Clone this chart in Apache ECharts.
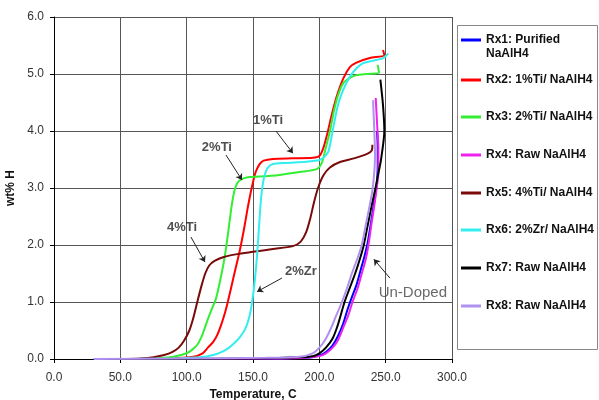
<!DOCTYPE html>
<html>
<head>
<meta charset="utf-8">
<script src="https://cdn.jsdelivr.net/npm/echarts@6/dist/echarts.min.js"></script>
<style>
  html, body { margin: 0; padding: 0; background: #fff; }
  #chart { width: 599px; height: 400px; }
</style>
</head>
<body>
<div id="chart"></div>
<script>
// axis ticks
const xTicks = [0, 50, 100, 150, 200, 250, 300];
const yTicks = [0, 1, 2, 3, 4, 5, 6];

// series names (legend order)
const names = [
  'Rx1: Purified\nNaAlH4',
  'Rx2: 1%Ti/ NaAlH4',
  'Rx3: 2%Ti/ NaAlH4',
  'Rx4: Raw NaAlH4',
  'Rx5: 4%Ti/ NaAlH4',
  'Rx6: 2%Zr/ NaAlH4',
  'Rx7: Raw NaAlH4',
  'Rx8: Raw NaAlH4'
];

// [temperature C, wt% H]
const rx1 = [[30,0],[120,0],[190,0.02],[200,0.06],[205,0.12],[210,0.24],[214,0.4],[218,0.62],[221,0.85],[224,1.05],[228,1.3],[231,1.55],[234,1.8],[236.5,2.05],[239,2.4],[241,2.7],[243,3.0],[244,3.4],[244,3.7],[243.5,4.0]];
const rx2 = [[60,0],[85,0.01],[105,0.04],[112,0.1],[116,0.2],[120,0.3],[123,0.42],[126,0.6],[129,0.82],[131,1.0],[134,1.3],[137,1.6],[140,1.9],[143,2.25],[146,2.65],[149,3.0],[152,3.28],[155,3.42],[158,3.48],[165,3.51],[180,3.52],[195,3.53],[200,3.56],[203,3.7],[206,3.95],[209,4.25],[213,4.6],[218,4.92],[223,5.12],[228,5.2],[238,5.28],[249,5.33],[248,5.42]];
const rx3 = [[55,0],[75,0.01],[90,0.04],[100,0.1],[104,0.16],[108,0.25],[111,0.38],[113,0.5],[116,0.7],[119,0.88],[122,1.05],[125,1.35],[128,1.7],[130,2.0],[132,2.35],[134,2.7],[136,2.95],[138,3.08],[141,3.15],[146,3.19],[155,3.2],[170,3.23],[185,3.28],[198,3.33],[202,3.45],[205,3.72],[208,4.0],[211,4.35],[214,4.62],[218,4.84],[223,4.93],[228,4.98],[236,5.0],[245,5.02],[244,5.16]];
const rx4 = [[50,0],[120,0],[170,0.01],[190,0.02],[200,0.05],[205,0.1],[210,0.2],[214,0.33],[218,0.55],[222,0.78],[225,1.0],[229,1.25],[232,1.5],[235,1.75],[237,2.0],[239.5,2.4],[241.5,2.7],[243,2.96],[244.5,3.26],[244.5,3.7],[243.5,4.14],[242.5,4.58]];
const rx5 = [[50,0],[65,0.01],[75,0.03],[83,0.07],[89,0.12],[94,0.2],[98,0.32],[102,0.5],[105,0.72],[108,1.0],[111,1.27],[114,1.5],[117,1.64],[121,1.72],[128,1.79],[138,1.84],[150,1.88],[165,1.93],[180,1.98],[186,2.06],[190,2.22],[193,2.45],[196,2.75],[199,3.0],[203,3.22],[208,3.36],[216,3.46],[226,3.52],[236,3.6],[239.5,3.66],[240,3.76]];
const rx6 = [[60,0],[90,0.01],[110,0.03],[120,0.07],[127,0.13],[132,0.2],[136,0.28],[140,0.38],[144,0.52],[147,0.72],[149,0.95],[151,1.3],[153,1.8],[154.5,2.3],[156,2.8],[158,3.15],[161,3.35],[165,3.42],[175,3.44],[190,3.46],[200,3.49],[204,3.55],[207,3.65],[210,4.0],[214,4.45],[218,4.72],[223,4.95],[228,5.1],[233,5.19],[240,5.23],[248,5.28],[252,5.36]];
const rx7 = [[40,0],[100,0],[150,0.01],[185,0.03],[195,0.05],[200,0.1],[205,0.2],[210,0.36],[214,0.6],[219,1.0],[223,1.25],[227,1.5],[230.5,1.75],[233.5,2.0],[236.5,2.35],[239.5,2.7],[242,2.96],[244,3.2],[246.5,3.5],[249,4.0],[248,4.45],[246,4.9]];
const rx8 = [[30,0],[100,0.01],[160,0.02],[185,0.04],[195,0.1],[200,0.2],[204,0.32],[208,0.5],[212,0.72],[217,1.0],[221,1.25],[224.5,1.5],[228.5,1.75],[232,2.0],[235,2.35],[238,2.7],[240,2.96],[241.5,3.3],[242,3.6],[241.5,3.96],[240.5,4.54]];

// annotations in data coords
const annotText = ['1%Ti', '2%Ti', '4%Ti', '2%Zr', 'Un-Doped'];
const annotAt = [[161.3,4.19],[122.8,3.72],[96.5,2.30],[186.1,1.53],[270.5,1.16]];
const arrowFrom = [[167.3,4.0],[129.6,3.58],[103.2,2.14],[171.8,1.42],[253.2,1.42]];
const arrowTo = [[180.1,3.61],[141.7,3.14],[113.8,1.70],[153.0,1.18],[241.1,1.75]];

const colors = ['#0000ff','#ff0000','#33ee33','#ee22ee','#7a0a0a','#33eeee','#000000','#b090f0'];
const allData = [rx1, rx2, rx3, rx4, rx5, rx6, rx7, rx8];
const legendCenters = [40, 80, 117, 155, 193, 230, 268, 306];

const font = "'Liberation Sans', Arial, sans-serif";
const chart = echarts.init(document.getElementById('chart'));

const series = allData.map((d, i) => ({
  name: names[i],
  type: 'line',
  data: d,
  symbol: 'none',
  smooth: 0.25,
  lineStyle: { width: 2, color: colors[i] },
  itemStyle: { color: colors[i] },
  z: 2 + i
}));

series.push({
  type: 'lines',
  coordinateSystem: 'cartesian2d',
  data: arrowFrom.map((p, i) => ({ coords: [p, arrowTo[i]] })),
  symbol: ['none', 'arrow'],
  symbolSize: 6,
  lineStyle: { color: '#222', width: 1, opacity: 1 },
  z: 20
});

series.push({
  type: 'scatter',
  data: annotAt.map((p, i) => ({
    value: p,
    name: annotText[i],
    label: i === 4 ? { fontWeight: 'normal', fontSize: 15, color: '#444' } : {}
  })),
  symbolSize: 0,
  label: {
    show: true,
    position: 'inside',
    formatter: p => p.name,
    fontFamily: font,
    fontSize: 13,
    fontWeight: 'bold',
    color: '#222'
  },
  z: 21
});

// one legend per entry so spacing matches
const legends = names.map((n, i) => ({
  data: [n],
  orient: 'vertical',
  left: 461,
  top: i === 0 ? legendCenters[i] - 21 : legendCenters[i] - 7,
  padding: 0,
  icon: 'rect',
  itemWidth: 20,
  itemHeight: 3,
  itemGap: 0,
  formatter: i === 0 ? name => ' \n' + name : name => name,
  textStyle: {
    fontFamily: font,
    fontSize: 12,
    fontWeight: 'bold',
    color: '#111',
    lineHeight: 14
  }
}));

const option = {
  animation: false,
  color: colors,
  textStyle: { fontFamily: font },
  grid: { left: 54, right: 147, top: 17, bottom: 41, outerBoundsMode: 'none' },
  legend: legends,
  graphic: [{
    type: 'rect',
    shape: { x: 457.5, y: 25.5, width: 140, height: 324 },
    style: { fill: 'none', stroke: '#888', lineWidth: 1 },
    silent: true
  }],
  xAxis: {
    type: 'value',
    min: xTicks[0],
    max: xTicks[xTicks.length - 1],
    interval: 50,
    name: 'Temperature, C',
    nameLocation: 'middle',
    nameGap: 29,
    nameTextStyle: { fontFamily: font, fontSize: 12, fontWeight: 'bold', color: '#111' },
    axisLine: { lineStyle: { color: '#000', width: 1 } },
    axisTick: { show: true, length: 4, lineStyle: { color: '#000' } },
    axisLabel: { formatter: v => v.toFixed(1), fontFamily: font, fontSize: 12, color: '#333', margin: 13 },
    splitLine: { show: true, lineStyle: { color: '#555', width: 1 } }
  },
  yAxis: {
    type: 'value',
    min: yTicks[0],
    max: yTicks[yTicks.length - 1],
    interval: 1,
    name: 'wt% H',
    nameLocation: 'middle',
    nameGap: 35,
    nameTextStyle: { fontFamily: font, fontSize: 12, fontWeight: 'bold', color: '#111' },
    axisLine: { show: true, lineStyle: { color: '#000', width: 1 } },
    axisTick: { show: true, length: 4, lineStyle: { color: '#000' } },
    axisLabel: { formatter: v => v.toFixed(1), fontFamily: font, fontSize: 12, color: '#333', margin: 10 },
    splitLine: { show: true, lineStyle: { color: '#555', width: 1 } }
  },
  series: series
};

chart.setOption(option);
</script>
</body>
</html>
